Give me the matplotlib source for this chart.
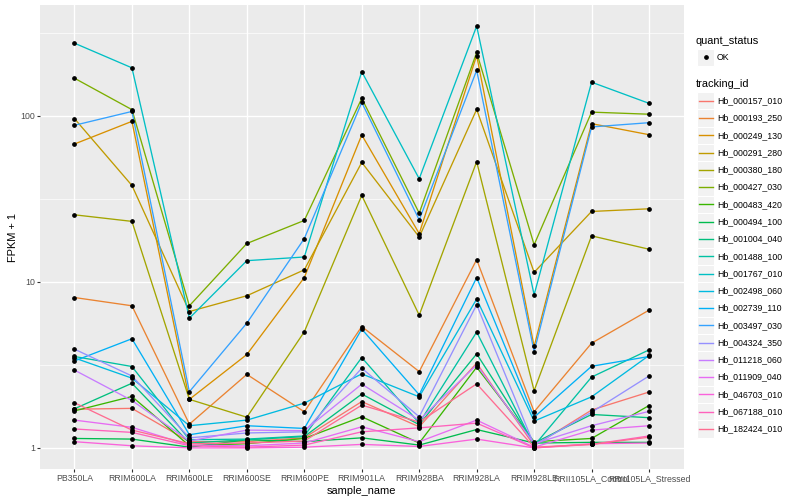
import numpy as np
import matplotlib
matplotlib.use("Agg")
import matplotlib.pyplot as plt
from matplotlib.patches import Rectangle
from matplotlib.lines import Line2D

plt.rcParams['font.family'] = ['Liberation Sans', 'DejaVu Sans']

samples = ["PB350LA", "RRIM600LA", "RRIM600LE", "RRIM600SE", "RRIM600PE",
           "RRIM901LA", "RRIM928BA", "RRIM928LA", "RRIM928LE",
           "RRII105LA_Control", "RRII105LA_Stressed"]

tracking_ids = ["Hb_000157_010", "Hb_000193_250", "Hb_000249_130", "Hb_000291_280",
                "Hb_000380_180", "Hb_000427_030", "Hb_000483_420", "Hb_000494_100",
                "Hb_001004_040", "Hb_001488_100", "Hb_001767_010", "Hb_002498_060",
                "Hb_002739_110", "Hb_003497_030", "Hb_004324_350", "Hb_011218_060",
                "Hb_011909_040", "Hb_046703_010", "Hb_067188_010", "Hb_182424_010"]

# FPKM + 1 values, one list per tracking_id (order of samples above)
hb_000157_010 = [1.71, 1.73, 1.09, 1.09, 1.15, 1.90, 1.34, 3.24, 1.03, 1.69, 2.17]
hb_000193_250 = [8.04, 7.17, 1.39, 2.77, 1.65, 5.38, 2.88, 13.6, 1.65, 4.27, 6.75]
hb_000249_130 = [67.5, 92.4, 1.96, 3.65, 10.6, 76.5, 19.5, 230, 4.08, 89.5, 76.8]
hb_000291_280 = [96, 38, 6.62, 8.24, 11.8, 52.3, 18.6, 109, 11.4, 26.5, 27.5]
hb_000380_180 = [25.3, 23.1, 1.96, 1.53, 5.0, 33.1, 6.3, 52.8, 2.21, 18.9, 15.7]
hb_000427_030 = [168, 108.7, 7.17, 17.0, 23.4, 127, 25.9, 240, 16.7, 105, 102]
hb_000483_420 = [1.67, 2.04, 1.03, 1.06, 1.14, 1.54, 1.07, 3.06, 1.09, 1.14, 1.80]
hb_000494_100 = [1.14, 1.13, 1.01, 1.12, 1.09, 1.15, 1.04, 1.29, 1.07, 1.08, 1.08]
hb_001004_040 = [1.72, 2.45, 1.07, 1.12, 1.17, 2.11, 1.38, 3.68, 1.07, 1.59, 1.52]
hb_001488_100 = [3.55, 3.09, 1.12, 1.13, 1.18, 3.50, 1.41, 4.98, 1.03, 2.67, 3.89]
hb_001767_010 = [273, 194, 6.04, 13.4, 14.1, 184, 41.7, 346, 8.35, 159, 118.6]
hb_002498_060 = [3.48, 2.63, 1.36, 1.47, 1.86, 2.79, 2.03, 7.87, 1.45, 2.03, 3.60]
hb_002739_110 = [3.34, 4.54, 1.20, 1.36, 1.31, 5.19, 2.09, 10.6, 1.53, 3.10, 3.55]
hb_003497_030 = [87.5, 106, 2.18, 5.64, 18.2, 120, 23.6, 187.5, 3.80, 85.5, 90.7]
hb_004324_350 = [3.93, 2.71, 1.15, 1.23, 1.25, 3.02, 1.54, 7.27, 1.04, 1.64, 2.71]
hb_011218_060 = [2.94, 1.93, 1.10, 1.28, 1.27, 2.42, 1.47, 3.16, 1.06, 1.36, 1.66]
hb_011909_040 = [1.47, 1.33, 1.04, 1.03, 1.07, 1.34, 1.09, 1.47, 1.01, 1.28, 1.36]
hb_046703_010 = [1.09, 1.03, 1.00, 1.00, 1.01, 1.05, 1.02, 1.13, 1.00, 1.06, 1.07]
hb_067188_010 = [1.30, 1.24, 1.03, 1.01, 1.04, 1.25, 1.32, 1.41, 1.00, 1.05, 1.18]
hb_182424_010 = [1.87, 1.28, 1.06, 1.07, 1.10, 1.81, 1.43, 2.43, 1.01, 1.05, 1.16]

series = [hb_000157_010, hb_000193_250, hb_000249_130, hb_000291_280, hb_000380_180,
          hb_000427_030, hb_000483_420, hb_000494_100, hb_001004_040, hb_001488_100,
          hb_001767_010, hb_002498_060, hb_002739_110, hb_003497_030, hb_004324_350,
          hb_011218_060, hb_011909_040, hb_046703_010, hb_067188_010, hb_182424_010]

colors = ["#F8766D", "#EA8331", "#D89000", "#C09B00", "#A3A500", "#7CAE00", "#39B600",
          "#00BB4E", "#00BF7D", "#00C1A3", "#00BFC4", "#00BAE0", "#00B0F6", "#35A2FF",
          "#9590FF", "#C77CFF", "#E76BF3", "#FA62DB", "#FF62BC", "#FF6C91"]

px = 72.0 / 100.0  # 1 source pixel (72 dpi) in points at 100 dpi

fig = plt.figure(figsize=(8, 5), dpi=100)
fig.patch.set_facecolor("white")
ax = fig.add_axes([40 / 800, 31 / 500, (683.5 - 40) / 800, (469 - 5) / 500])
ax.set_facecolor("#EBEBEB")

x = np.arange(1, len(samples) + 1)
for vals, c in zip(series, colors):
    ax.plot(x, vals, color=c, lw=0.95, zorder=3, solid_capstyle="butt")
for vals in series:
    ax.plot(x, vals, ls="none", marker="o", ms=2.4, color="black", zorder=4)

ax.set_yscale("log")
allv = np.log10(np.concatenate([np.array(s) for s in series]))
lo, hi = allv.min(), allv.max()
rng = hi - lo
ax.set_ylim(10 ** (lo - 0.05 * rng), 10 ** (hi + 0.05 * rng))
ax.set_xlim(0.4, len(samples) + 0.6)

# grid
for v in [1, 10, 100]:
    ax.axhline(v, color="white", lw=1.0, zorder=1)
for v in [10 ** 0.5, 10 ** 1.5, 10 ** 2.5]:
    ax.axhline(v, color="white", lw=0.5, zorder=1)
for xi in x:
    ax.axvline(xi, color="white", lw=1.0, zorder=1)

ax.set_yticks([1, 10, 100])
ax.set_yticklabels(["1", "10", "100"])
ax.yaxis.set_minor_locator(matplotlib.ticker.NullLocator())
ax.set_xticks(x)
ax.set_xticklabels(samples)
ax.tick_params(axis="both", which="major", length=2.75 * px, width=0.8,
               color="#333333", labelcolor="#4D4D4D", labelsize=8.8 * px, pad=2.2 * px)
for s in ax.spines.values():
    s.set_visible(False)

ax.set_xlabel("sample_name", fontsize=11 * px, labelpad=2.75 * px)
ax.set_ylabel("FPKM + 1", fontsize=11 * px, labelpad=2.75 * px)

# legend (ggplot style)
lg = fig.add_axes([0, 0, 1, 1], facecolor="none")
lg.set_xlim(0, 800)
lg.set_ylim(500, 0)
lg.axis("off")
kx, kw, kh = 697.0, 17.28, 17.28
lg.text(696, 40.5, "quant_status", fontsize=11 * px, va="center", ha="left")
lg.add_patch(Rectangle((kx, 57.3 - kh / 2), kw, kh, facecolor="#F2F2F2", edgecolor="white", lw=0.8))
lg.plot([kx + kw / 2], [57.3], marker="o", ms=2.4, color="black")
lg.text(717, 57.3, "OK", fontsize=8.8 * px, va="center", ha="left")
lg.text(696, 84, "tracking_id", fontsize=11 * px, va="center", ha="left")
y0 = 100.7
for i, (tid, c) in enumerate(zip(tracking_ids, colors)):
    yc = y0 + i * kh
    lg.add_patch(Rectangle((kx, yc - kh / 2), kw, kh, facecolor="#F2F2F2", edgecolor="white", lw=0.8))
    lg.add_line(Line2D([kx + 1.7, kx + kw - 1.7], [yc, yc], color=c, lw=1.0))
    lg.text(717, yc, tid, fontsize=8.8 * px, va="center", ha="left")

fig.savefig("out.png", dpi=100)
